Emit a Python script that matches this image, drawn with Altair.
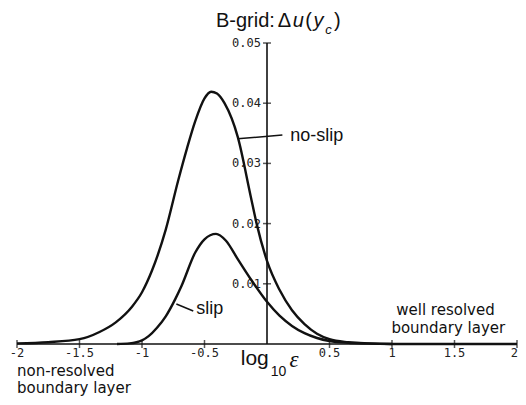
import altair as alt
import pandas as pd

# ---- data ----
x_noslip = [-2.0, -1.75, -1.5, -1.34, -1.21, -1.08, -1.0, -0.92, -0.81, -0.71,
            -0.64, -0.576, -0.5, -0.447, -0.4, -0.34, -0.234, -0.131, -0.083, 0.0,
            0.1, 0.2, 0.3, 0.4, 0.5, 0.65, 0.8, 1.0, 1.5, 2.0]
y_noslip = [0.0001, 0.0003, 0.0008, 0.0020, 0.0036, 0.0062, 0.0086, 0.0122, 0.0190, 0.0272,
            0.0325, 0.0369, 0.0408, 0.0419, 0.0416, 0.0400, 0.0344, 0.0246, 0.0200, 0.0138,
            0.0090, 0.0056, 0.0033, 0.0017, 0.0008, 0.0003, 0.0001, 0.0, 0.0, 0.0]

x_slip = [-1.2, -1.1, -1.0, -0.947, -0.88, -0.81, -0.733, -0.685, -0.574, -0.5,
          -0.408, -0.33, -0.234, -0.131, 0.0, 0.1, 0.2, 0.3, 0.4, 0.5,
          0.65, 0.8, 1.0]
y_slip = [0.0, 0.0001, 0.0006, 0.0013, 0.0027, 0.0046, 0.0075, 0.0096, 0.0152, 0.0174,
          0.0183, 0.0172, 0.0141, 0.0108, 0.0070, 0.0047, 0.0030, 0.0018, 0.0010, 0.0005,
          0.0002, 0.0001, 0.0]

x_tick_values = [-2, -1.5, -1, -0.5, 0.5, 1, 1.5, 2]
x_tick_labels = ["-2", "-1.5", "-1", "-0.5", "0.5", "1", "1.5", "2"]
y_tick_values = [0.01, 0.02, 0.03, 0.04, 0.05]
y_tick_labels = ["0.01", "0.02", "0.03", "0.04", "0.05"]

x_domain = [-2, 2]
y_domain = [0, 0.05]

SANS = "Liberation Sans"
WIDE = "DejaVu Sans"
A = "alphabetic"
# annotations (data coordinates)
annotations = [
    # title pieces
    dict(x=-0.408, y=0.0527, t="B-grid:", size=20, style="normal", font=SANS, align="left", base=A),
    dict(x=0.085, y=0.0527, t="Δ", size=20, style="normal", font=SANS, align="left", base=A),
    dict(x=0.205, y=0.0527, t="u", size=20, style="italic", font=SANS, align="left", base=A),
    dict(x=0.305, y=0.0527, t="(", size=20, style="normal", font=SANS, align="left", base=A),
    dict(x=0.372, y=0.0527, t="y", size=20, style="italic", font=SANS, align="left", base=A),
    dict(x=0.465, y=0.0515, t="c", size=13, style="italic", font=SANS, align="left", base=A),
    dict(x=0.535, y=0.0527, t=")", size=20, style="normal", font=SANS, align="left", base=A),
    # x axis label
    dict(x=-0.210, y=-0.00350, t="log", size=21, style="normal", font=SANS, align="left", base=A),
    dict(x=0.030, y=-0.00530, t="10", size=14, style="normal", font=SANS, align="left", base=A),
    dict(x=0.180, y=-0.00380, t="ε", size=23, style="italic", font="Liberation Serif", align="left", base=A),
    # curve labels
    dict(x=0.186, y=0.0337, t="no-slip", size=18, style="normal", font=SANS, align="left", base=A),
    dict(x=-0.566, y=0.00500, t="slip", size=18, style="normal", font=SANS, align="left", base=A),
    # regime labels
    dict(x=1.034, y=0.00482, t="well resolved", size=15, style="normal", font=WIDE, align="left", base=A),
    dict(x=0.995, y=0.00183, t="boundary layer", size=15, style="normal", font=WIDE, align="left", base=A),
    dict(x=-2.0, y=-0.00532, t="non-resolved", size=15, style="normal", font=WIDE, align="left", base=A),
    dict(x=-2.0, y=-0.00814, t="boundary layer", size=15, style="normal", font=WIDE, align="left", base=A),
]

leaders = [
    dict(x=-0.234, y=0.0341, x2=0.123, y2=0.0347),
    dict(x=-0.725, y=0.00664, x2=-0.590, y2=0.00548),
]

INK = "#111111"

xs = alt.Scale(domain=x_domain, nice=False, zero=False)
ys = alt.Scale(domain=y_domain, nice=False, zero=False)

curves = pd.concat([
    pd.DataFrame({"x": x_noslip, "y": y_noslip, "s": "no-slip"}),
    pd.DataFrame({"x": x_slip, "y": y_slip, "s": "slip"}),
])

curve_layer = alt.Chart(curves).mark_line(
    interpolate="monotone", strokeWidth=2.4, color=INK
).encode(
    x=alt.X("x:Q", scale=xs, axis=None),
    y=alt.Y("y:Q", scale=ys, axis=None),
    detail="s:N",
)

axes_df = pd.DataFrame({
    "x": [x_domain[0], 0], "x2": [x_domain[1], 0],
    "y": [0, 0], "y2": [0, y_domain[1]],
})
axes_layer = alt.Chart(axes_df).mark_rule(strokeWidth=1.6, color=INK).encode(
    x=alt.X("x:Q", scale=xs, axis=None), x2="x2:Q",
    y=alt.Y("y:Q", scale=ys, axis=None), y2="y2:Q",
)

xt_df = pd.DataFrame({"x": x_tick_values, "y": [0] * len(x_tick_values), "t": x_tick_labels})
yt_df = pd.DataFrame({"x": [0] * len(y_tick_values), "y": y_tick_values, "t": y_tick_labels})
xt_inner = xt_df.iloc[:-1]
xt_last = xt_df.iloc[-1:]

xtick_layer = alt.Chart(xt_df).mark_tick(orient="vertical", size=8, thickness=1.5, color=INK).encode(
    x=alt.X("x:Q", scale=xs, axis=None), y=alt.Y("y:Q", scale=ys, axis=None))
ytick_layer = alt.Chart(yt_df).mark_tick(orient="horizontal", size=8, thickness=1.5, color=INK).encode(
    x=alt.X("x:Q", scale=xs, axis=None), y=alt.Y("y:Q", scale=ys, axis=None))

xlab_layer = alt.Chart(xt_inner).mark_text(
    align="center", baseline="middle", dy=9, font="DejaVu Sans Mono", fontSize=12, color="#222222"
).encode(x=alt.X("x:Q", scale=xs, axis=None), y=alt.Y("y:Q", scale=ys, axis=None), text="t:N")
xlab_last = alt.Chart(xt_last).mark_text(
    align="right", baseline="middle", dy=9, dx=1, font="DejaVu Sans Mono", fontSize=12, color="#222222"
).encode(x=alt.X("x:Q", scale=xs, axis=None), y=alt.Y("y:Q", scale=ys, axis=None), text="t:N")
ylab_layer = alt.Chart(yt_df).mark_text(
    align="right", baseline="middle", dx=-6, font="DejaVu Sans Mono", fontSize=12, color="#222222"
).encode(x=alt.X("x:Q", scale=xs, axis=None), y=alt.Y("y:Q", scale=ys, axis=None), text="t:N")

leader_layer = alt.Chart(pd.DataFrame(leaders)).mark_rule(strokeWidth=1.5, color=INK).encode(
    x=alt.X("x:Q", scale=xs, axis=None), x2="x2:Q",
    y=alt.Y("y:Q", scale=ys, axis=None), y2="y2:Q",
)

text_layers = []
for a in annotations:
    df = pd.DataFrame([{"x": a["x"], "y": a["y"], "t": a["t"]}])
    text_layers.append(
        alt.Chart(df).mark_text(
            align=a["align"], baseline=a["base"], font=a["font"], fontSize=a["size"],
            fontStyle=a["style"], color=INK
        ).encode(
            x=alt.X("x:Q", scale=xs, axis=None),
            y=alt.Y("y:Q", scale=ys, axis=None),
            text="t:N",
        )
    )

chart = alt.layer(
    axes_layer, xtick_layer, ytick_layer, xlab_layer, xlab_last, ylab_layer,
    curve_layer, leader_layer, *text_layers
).properties(
    width=500, height=301,
    padding={"left": 9, "top": 35, "right": 1, "bottom": 53},
    autosize="none",
    background="white",
).configure_view(stroke=None)

chart.save("out.html", embed_options={"renderer": "svg", "actions": False})
